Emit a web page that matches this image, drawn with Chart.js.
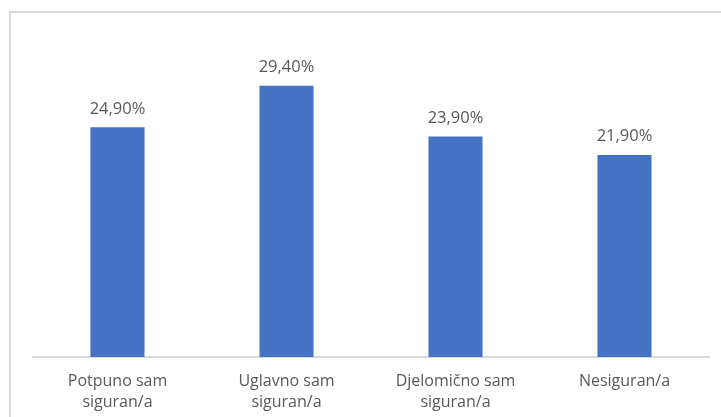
<!DOCTYPE html>
<html>
<head>
<meta charset="utf-8">
<script src="https://cdn.jsdelivr.net/npm/chart.js@4"></script>
<style>
  html, body { margin: 0; padding: 0; background: #fff; }
  #wrap { position: relative; width: 721px; height: 417px; overflow: hidden; }
  #frame { position: absolute; left: 9px; top: 11px; width: 800px; height: 500px; border: 2px solid #d9d9d9; box-sizing: border-box; }
  canvas { position: absolute; left: 0; top: 0; }
</style>
</head>
<body>
<div id="wrap">
  <div id="frame"></div>
  <canvas id="myChart" width="721" height="417"></canvas>
</div>
<script>
// categories (split in two lines like the original)
const categories = [
    ['Potpuno sam', 'siguran/a'],
    ['Uglavno sam', 'siguran/a'],
    ['Djelomično sam', 'siguran/a'],
    ['Nesiguran/a']
];
const values = [24.9, 29.4, 23.9, 21.9];
const valueLabels = ['24,90%', '29,40%', '23,90%', '21,90%'];

const textColor = '#595959';
const fontFamily = "'Open Sans', 'Noto Sans', sans-serif";

// draws the value above each bar
const labelsAboveBars = {
    id: 'labelsAboveBars',
    afterDatasetsDraw(chart) {
        const ctx = chart.ctx;
        const meta = chart.getDatasetMeta(0);
        ctx.save();
        ctx.fillStyle = textColor;
        ctx.font = '16.5px ' + fontFamily;
        ctx.textAlign = 'center';
        ctx.textBaseline = 'bottom';
        meta.data.forEach((bar, i) => {
            ctx.fillText(valueLabels[i], bar.x, bar.y - 10);
        });
        ctx.restore();
    }
};

const ctx = document.getElementById('myChart').getContext('2d');
new Chart(ctx, {
    type: 'bar',
    data: {
        labels: categories,
        datasets: [{
            data: values,
            backgroundColor: '#4472C4',
            borderWidth: 0,
            categoryPercentage: 1,
            barPercentage: 0.32
        }]
    },
    options: {
        responsive: false,
        animation: false,
        layout: { padding: { left: 33, right: 12, top: 34, bottom: 0 } },
        plugins: {
            legend: { display: false },
            tooltip: { enabled: false }
        },
        scales: {
            x: {
                grid: { display: false, drawTicks: false },
                border: { display: true, color: '#d9d9d9', width: 2 },
                ticks: {
                    color: textColor,
                    font: { family: fontFamily, size: 16, lineHeight: 1.3 },
                    padding: 14,
                    maxRotation: 0,
                    autoSkip: false
                },
                afterFit(scale) { scale.height = 60; }
            },
            y: {
                display: false,
                min: 0,
                max: 35
            }
        }
    },
    plugins: [labelsAboveBars]
});
</script>
</body>
</html>
